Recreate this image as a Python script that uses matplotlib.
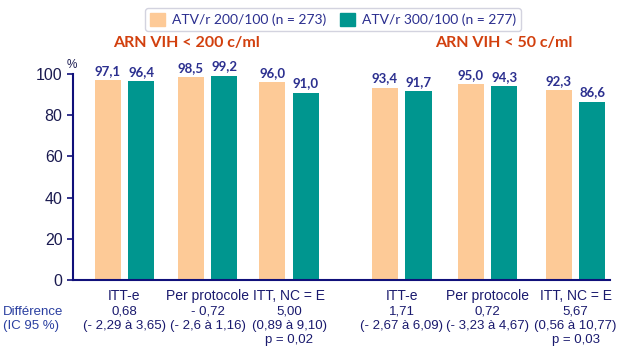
import matplotlib.pyplot as plt
from matplotlib.patches import Patch
from matplotlib.transforms import blended_transform_factory

categories = ['ITT-e', 'Per protocole', 'ITT, NC = E', 'ITT-e', 'Per protocole', 'ITT, NC = E']
atv200 = [97.1, 98.5, 96.0, 93.4, 95.0, 92.3]
atv300 = [96.4, 99.2, 91.0, 91.7, 94.3, 86.6]
diff = ['0,68', '- 0,72', '5,00', '1,71', '0,72', '5,67']
ic95 = ['(- 2,29 à 3,65)', '(- 2,6 à 1,16)', '(0,89 à 9,10)',
        '(- 2,67 à 6,09)', '(- 3,23 à 4,67)', '(0,56 à 10,77)']
pvals = ['', '', 'p = 0,02', '', '', 'p = 0,03']
titles = ['ARN VIH < 200 c/ml', 'ARN VIH < 50 c/ml']
series = ['ATV/r 200/100 (n = 273)', 'ATV/r 300/100 (n = 277)']

peach = '#FDCA97'
teal = '#00968F'
navy = '#2B2F8F'
dark = '#1A1A6E'

pos = [0, 0.99, 1.96, 3.30, 4.32, 5.37]
w = 0.31
off = 0.2

fig = plt.figure(figsize=(6.25, 3.54), dpi=100)
ax = fig.add_axes([73/625, 1-280/354, (610-73)/625, (280-74)/354])

for i, x in enumerate(pos):
    ax.bar(x - off, atv200[i], w, color=peach, clip_on=False)
    ax.bar(x + off, atv300[i], w, color=teal, clip_on=False)
    ax.text(x - off, atv200[i] + 1.5, f'{atv200[i]:.1f}'.replace('.', ','), ha='center', va='bottom',
            fontsize=9.5, color=navy, fontweight='bold', family='Lato')
    ax.text(x + off, atv300[i] + 1.5, f'{atv300[i]:.1f}'.replace('.', ','), ha='center', va='bottom',
            fontsize=9.5, color=navy, fontweight='bold', family='Lato')

ax.set_xlim(-0.613, 5.78)
ax.set_ylim(0, 100)
ax.set_yticks([0, 20, 40, 60, 80, 100])
ax.set_xticks([])
for s in ['top', 'right']:
    ax.spines[s].set_visible(False)
for s in ['left', 'bottom']:
    ax.spines[s].set_color('#10107A')
    ax.spines[s].set_linewidth(1.5)
ax.tick_params(axis='y', colors='#10107A', length=4, width=1.2, labelsize=11.5,
               labelcolor='#1A1A50')
for lab in ax.get_yticklabels():
    lab.set_family('Liberation Sans')
fig.text(72/625, 1-65/354, '%', fontsize=8.5, color='#1A1A50', ha='center', va='center',
         family='Liberation Sans')

fig.text(186/625, 1-43/354, titles[0], fontsize=11.5, color='#D2400E', fontweight='bold',
         ha='center', va='center', family='Lato')
fig.text(504/625, 1-43/354, titles[1], fontsize=11.5, color='#D2400E', fontweight='bold',
         ha='center', va='center', family='Lato')

tr = blended_transform_factory(ax.transData, fig.transFigure)
for i, x in enumerate(pos):
    ax.text(x, 1-296/354, categories[i], transform=tr, ha='center', va='center',
            fontsize=10, color=dark, family='Liberation Sans')
    ax.text(x, 1-312/354, diff[i], transform=tr, ha='center', va='center',
            fontsize=9.5, color=dark, family='Liberation Sans')
    ax.text(x, 1-326/354, ic95[i], transform=tr, ha='center', va='center',
            fontsize=9.5, color=dark, family='Liberation Sans')
    if pvals[i]:
        ax.text(x, 1-340/354, pvals[i], transform=tr, ha='center', va='center',
                fontsize=9.5, color=dark, family='Liberation Sans')
fig.text(3/625, 1-312/354, 'Différence', fontsize=9.5, color='#2A3FA0', ha='left', va='center',
         family='Liberation Sans')
fig.text(3/625, 1-326/354, '(IC 95 %)', fontsize=9.5, color='#2A3FA0', ha='left', va='center',
         family='Liberation Sans')

handles = [Patch(color=peach), Patch(color=teal)]
leg = fig.legend(handles, series, loc='upper center', bbox_to_anchor=(333/625, 1-1/354), ncol=2,
                 frameon=True, fancybox=True, edgecolor='#C8C8D8', handlelength=1.1, handleheight=1.1,
                 columnspacing=1.0, handletextpad=0.5, borderpad=0.35,
                 prop={'family': 'Lato', 'size': 10})
for t in leg.get_texts():
    t.set_color(navy)

fig.savefig('out.png', dpi=100)
